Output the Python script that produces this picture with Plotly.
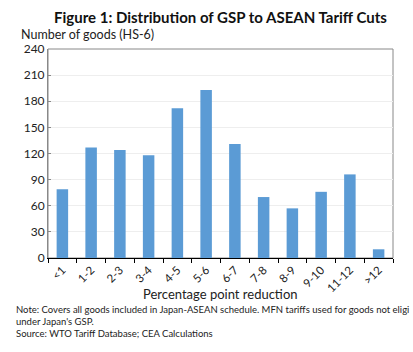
import plotly.graph_objects as go

categories = ["<1", "1-2", "2-3", "3-4", "4-5", "5-6", "6-7", "7-8", "8-9", "9-10", "11-12", ">12"]
values = [79, 127, 124, 118, 172, 193, 131, 70, 57, 76, 96, 10]
y_ticks = [0, 30, 60, 90, 120, 150, 180, 210, 240]

FONT = "Lato"

fig = go.Figure(go.Bar(x=categories, y=values, marker=dict(color="#5B9BD5", line=dict(width=0))))

fig.update_layout(
    width=413, height=352,
    margin=dict(l=48, r=20, t=49, b=94),
    paper_bgcolor="white", plot_bgcolor="white",
    bargap=0.6,
    showlegend=False,
    font=dict(family=FONT, color="#222"),
)
fig.update_xaxes(
    type="category",
    tickangle=-45,
    tickfont=dict(size=11.5, family=FONT, color="#222"),
    ticks="outside", tickson="boundaries", ticklen=4, tickcolor="black",
    showline=True, linecolor="black", linewidth=1, mirror=False,
    showgrid=False,
)
fig.update_yaxes(
    range=[0, 240], tickvals=y_ticks,
    tickfont=dict(size=12, family=FONT, color="#222"),
    ticks="inside", ticklen=3, tickcolor="#888",
    showgrid=True, gridcolor="#EEEEEE", gridwidth=1,
    showline=True, linecolor="#888", linewidth=1,
    zeroline=False,
)
# right & top frame
fig.add_shape(type="rect", xref="paper", yref="paper", x0=0, y0=0, x1=1, y1=1,
              line=dict(color="#888", width=1), layer="below")

fig.add_annotation(text="<b>Figure 1: Distribution of GSP to ASEAN Tariff Cuts</b>",
                   xref="paper", yref="paper", x=0.5, y=1, yshift=32, xanchor="center", yanchor="middle",
                   showarrow=False, font=dict(size=15, family=FONT, color="#111"))
fig.add_annotation(text="Number of goods (HS-6)", xref="paper", yref="paper",
                   x=-0.085, y=1, yshift=15, xanchor="left", yanchor="middle",
                   showarrow=False, font=dict(size=12.5, family=FONT, color="#222"))
fig.add_annotation(text="Percentage point reduction", xref="paper", yref="paper",
                   x=0.5, y=0, yshift=-36, xanchor="center", yanchor="middle",
                   showarrow=False, font=dict(size=13, family=FONT, color="#222"))
notes = [
    "Note: Covers all goods included in Japan-ASEAN schedule. MFN tariffs used for goods not eligi",
    "under Japan's GSP.",
    "Source: WTO Tariff Database; CEA Calculations",
]
for i, t in enumerate(notes):
    fig.add_annotation(text=t, xref="paper", yref="paper", x=-0.098, y=0, yshift=-51 - 12 * i,
                       xanchor="left", yanchor="middle", showarrow=False,
                       font=dict(size=9.5, family=FONT, color="#222"))

fig.write_html("out.html")
